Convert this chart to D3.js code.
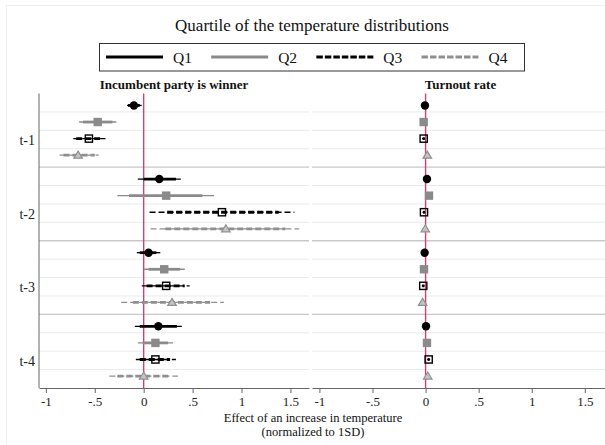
<!DOCTYPE html>
<html>
<head>
<meta charset="utf-8">
<script src="https://cdn.jsdelivr.net/npm/d3@7/dist/d3.min.js"></script>
<style>
  html, body { margin: 0; padding: 0; background: #fff; }
  svg { display: block; font-family: "Liberation Serif", "Times New Roman", serif; }
</style>
</head>
<body>
<svg id="chart" width="605" height="445"></svg>
<script>
// Lags and temperature quartiles
const groups = ["t-1", "t-2", "t-3", "t-4"];
const quartiles = ["Q1", "Q2", "Q3", "Q4"];
const tickValues = [-1, -0.5, 0, 0.5, 1, 1.5];
const tickLabels = ["-1", "-.5", "0", ".5", "1", "1.5"];

// Incumbent party is winner: [estimate, lo95, hi95, lo90, hi90] for t-1 .. t-4
const incQ1 = [[-0.10, -0.17, -0.02, -0.16, -0.04], [0.16, -0.06, 0.38, 0.00, 0.33], [0.05, -0.07, 0.17, -0.04, 0.13], [0.15, -0.09, 0.39, -0.04, 0.34]];
const incQ2 = [[-0.47, -0.66, -0.28, -0.62, -0.32], [0.23, -0.27, 0.72, -0.15, 0.60], [0.21, 0.00, 0.42, 0.05, 0.37], [0.12, -0.06, 0.30, -0.01, 0.25]];
const incQ3 = [[-0.56, -0.72, -0.39, -0.69, -0.42], [0.80, 0.06, 1.54, 0.24, 1.38], [0.23, -0.02, 0.47, 0.03, 0.42], [0.12, -0.08, 0.33, -0.04, 0.27]];
const incQ4 = [[-0.67, -0.86, -0.46, -0.82, -0.50], [0.84, 0.07, 1.59, 0.22, 1.45], [0.29, -0.23, 0.82, -0.11, 0.68], [0.00, -0.35, 0.35, -0.27, 0.27]];

// Turnout rate: [estimate, lo95, hi95, lo90, hi90]
const turnQ1 = [[-0.006, -0.016, 0.004, -0.013, 0.001], [0.013, 0.003, 0.023, 0.006, 0.020], [-0.009, -0.019, 0.001, -0.016, -0.002], [0.004, -0.006, 0.014, -0.003, 0.011]];
const turnQ2 = [[-0.018, -0.030, -0.006, -0.027, -0.009], [0.032, 0.020, 0.044, 0.023, 0.041], [-0.015, -0.027, -0.003, -0.024, -0.006], [0.013, 0.001, 0.025, 0.004, 0.022]];
const turnQ3 = [[-0.018, -0.032, -0.004, -0.028, -0.008], [-0.015, -0.029, -0.001, -0.025, -0.005], [-0.022, -0.036, -0.008, -0.032, -0.012], [0.029, 0.015, 0.043, 0.019, 0.039]];
const turnQ4 = [[0.016, 0.004, 0.028, 0.007, 0.025], [-0.003, -0.015, 0.009, -0.012, 0.006], [-0.028, -0.040, -0.016, -0.037, -0.019], [0.020, 0.008, 0.032, 0.011, 0.029]];

const styles = {
  Q1: { color: "#000000", dash: null,  marker: "circle" },
  Q2: { color: "#8a8a8a", dash: null,  marker: "square" },
  Q3: { color: "#000000", dash: "6,3", marker: "osquare" },
  Q4: { color: "#8f8f8f", dash: "6,3", marker: "triangle" }
};

const panels = [
  { title: "Incumbent party is winner", x0: 39, x1: 309, axisLine: true,
    data: { Q1: incQ1, Q2: incQ2, Q3: incQ3, Q4: incQ4 } },
  { title: "Turnout rate", x0: 312, x1: 605, axisLine: false,
    data: { Q1: turnQ1, Q2: turnQ2, Q3: turnQ3, Q4: turnQ4 } }
];

const svg = d3.select("#chart");
const plotTop = 93.5, plotBottom = 388;
const refColor = "#d2416b";

// faint outer frame of the graph region
svg.append("rect").attr("x", 6.5).attr("y", 5.5).attr("width", 640).attr("height", 460)
  .attr("fill", "none").attr("stroke", "#efefef");

// title
svg.append("text").attr("x", 312).attr("y", 31).attr("text-anchor", "middle")
  .attr("font-size", 17).attr("fill", "#111").text("Quartile of the temperature distributions");

// legend
const lg = svg.append("g");
lg.append("rect").attr("x", 99.5).attr("y", 43.5).attr("width", 425).attr("height", 27.5)
  .attr("fill", "#fff").attr("stroke", "#333").attr("stroke-width", 1);
const legendX = d3.scalePoint().domain(quartiles).range([106, 421.5]);
quartiles.forEach(q => {
  const s = styles[q];
  const lx = legendX(q);
  lg.append("line").attr("x1", lx).attr("x2", lx + 57).attr("y1", 57).attr("y2", 57)
    .attr("stroke", s.color).attr("stroke-width", 3)
    .attr("stroke-dasharray", s.dash ? "6.5,2" : null);
  lg.append("text").attr("x", lx + 67).attr("y", 62.5).attr("font-size", 15.5)
    .attr("fill", "#111").text(q);
});

// vertical layout: one band per lag, four markers within
const yGroup = d3.scaleBand().domain(groups).range([plotTop, plotBottom]).paddingInner(0).paddingOuter(0);
const yQuart = d3.scalePoint().domain(quartiles).range([0, yGroup.bandwidth()]).padding(0.72);

function drawMarker(g, q, cx, cy) {
  const s = styles[q];
  if (s.marker === "circle") {
    g.append("circle").attr("cx", cx).attr("cy", cy).attr("r", 4.2).attr("fill", s.color);
  } else if (s.marker === "square") {
    g.append("rect").attr("x", cx - 4.2).attr("y", cy - 4.2).attr("width", 8.4).attr("height", 8.4)
      .attr("fill", s.color);
  } else if (s.marker === "osquare") {
    g.append("rect").attr("x", cx - 3.6).attr("y", cy - 3.6).attr("width", 7.2).attr("height", 7.2)
      .attr("fill", "none").attr("stroke", s.color).attr("stroke-width", 1.4);
  } else {
    const h = 7, w = 8.5;
    g.append("path")
      .attr("d", `M${cx},${cy - h / 2 - 0.5}L${cx + w / 2},${cy + h / 2 - 0.5}L${cx - w / 2},${cy + h / 2 - 0.5}Z`)
      .attr("fill", "#c4c4c4").attr("stroke", s.color).attr("stroke-width", 1.2);
  }
}

panels.forEach(p => {
  const x = d3.scaleLinear().domain([-1.07, 1.69]).range([p.x0, p.x1]);
  const g = svg.append("g");

  // row grid lines
  groups.forEach((grp, gi) => {
    const b = yGroup(grp), bw = yGroup.bandwidth();
    [1, 2, 3].forEach(k => {
      g.append("line").attr("x1", p.x0).attr("x2", p.x1)
        .attr("y1", b + k * bw / 4).attr("y2", b + k * bw / 4)
        .attr("stroke", "#e5ecee").attr("stroke-width", 1);
    });
    if (gi > 0) {
      g.append("line").attr("x1", p.x0).attr("x2", p.x1).attr("y1", b).attr("y2", b)
        .attr("stroke", "#c8c8c8").attr("stroke-width", 1.4);
    }
  });

  // reference line at zero
  g.append("line").attr("x1", x(0)).attr("x2", x(0)).attr("y1", plotTop).attr("y2", plotBottom)
    .attr("stroke", refColor).attr("stroke-width", 1.4);

  // x axis
  const axis = d3.axisBottom(x).tickValues(tickValues)
    .tickFormat((d, i) => tickLabels[i]).tickSize(5).tickSizeOuter(0);
  const ax = svg.append("g").attr("transform", `translate(0,${plotBottom})`).call(axis);
  ax.select(".domain").attr("stroke", "#666");
  ax.selectAll(".tick line").attr("stroke", "#666");
  ax.selectAll(".tick text").attr("font-family", "\"Liberation Serif\", \"Times New Roman\", serif")
    .attr("font-size", 13).attr("fill", "#222").attr("dy", "0.78em");

  if (p.axisLine) {
    svg.append("line").attr("x1", p.x0).attr("x2", p.x0).attr("y1", plotTop).attr("y2", plotBottom)
      .attr("stroke", "#666").attr("stroke-width", 1);
    groups.forEach(grp => {
      svg.append("text").attr("x", 35).attr("y", yGroup(grp) + yGroup.bandwidth() / 2 + 11.5)
        .attr("text-anchor", "end").attr("dominant-baseline", "middle")
        .attr("font-size", 14).attr("fill", "#222").text(grp);
    });
  }

  // panel title
  svg.append("text").attr("x", (p.x0 + p.x1) / 2 + (p.axisLine ? 0 : 2)).attr("y", 89)
    .attr("text-anchor", "middle").attr("font-size", 13).attr("font-weight", "bold")
    .attr("fill", "#111").text(p.title);

  // confidence intervals and point estimates
  quartiles.forEach(q => {
    const s = styles[q];
    p.data[q].forEach((row, gi) => {
      const [est, lo95, hi95, lo90, hi90] = row;
      const cy = yGroup(groups[gi]) + yQuart(q);
      g.append("line").attr("x1", x(lo95)).attr("x2", x(hi95)).attr("y1", cy).attr("y2", cy)
        .attr("stroke", s.color).attr("stroke-width", 1.3).attr("stroke-dasharray", s.dash);
      g.append("line").attr("x1", x(lo90)).attr("x2", x(hi90)).attr("y1", cy).attr("y2", cy)
        .attr("stroke", s.color).attr("stroke-width", 2.8).attr("stroke-dasharray", s.dash);
      drawMarker(g, q, x(est), cy);
    });
  });
});

// x axis title, two lines
svg.append("text").attr("x", 313).attr("y", 422).attr("text-anchor", "middle")
  .attr("font-size", 12.5).attr("fill", "#111").text("Effect of an increase in temperature");
svg.append("text").attr("x", 313).attr("y", 436).attr("text-anchor", "middle")
  .attr("font-size", 12.5).attr("fill", "#111").text("(normalized to 1SD)");
</script>
</body>
</html>
